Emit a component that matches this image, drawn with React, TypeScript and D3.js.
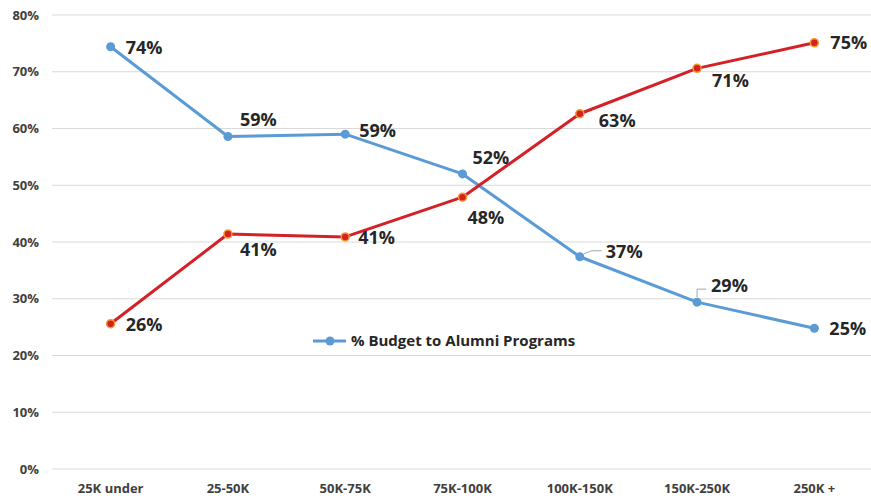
import React from "react";
import * as d3 from "d3";

const categories = ["25K under", "25-50K", "50K-75K", "75K-100K", "100K-150K", "150K-250K", "250K +"];
const alumniBudget = [74.4, 58.6, 59.0, 52.0, 37.4, 29.4, 24.8];
const otherBudget = [25.6, 41.4, 40.9, 47.9, 62.6, 70.6, 75.1];
const yTicks = [0, 10, 20, 30, 40, 50, 60, 70, 80];
const legendLabel = "% Budget to Alumni Programs";

// label offsets (dx, dy) relative to each point
const blueLabelOffsets: [number, number][] = [[15, 1], [12, -17], [14, -4], [10, -16], [26, -5], [14, -17], [15, 0]];
const redLabelOffsets: [number, number][] = [[15, 1], [12, 15], [13, 1], [5, 20], [19, 7], [15, 12], [16, 0]];

const W = 871, H = 496;
const FONT = "'Open Sans', 'Noto Sans', sans-serif";
const BLUE = "#5b9bd5";
const RED = "#d42027";
const RED_STROKE = "#f59a2a";

export default function App() {
  const x = d3.scaleBand<string>().domain(categories).range([52, 873]);
  const y = d3.scaleLinear().domain([0, 80]).range([469, 15]);
  const cx = (c: string) => (x(c) as number) + x.bandwidth() / 2;
  const line = d3.line<number>().x((_, i) => cx(categories[i])).y((d) => y(d));

  const labels = (vals: number[], offs: [number, number][], key: string) =>
    vals.map((v, i) => (
      <text key={key + i} x={cx(categories[i]) + offs[i][0]} y={y(v) + offs[i][1]} dy="0.36em"
        fontSize={18} fontWeight={700} fill="#262626" fontFamily={FONT}>
        {Math.round(v)}%
      </text>
    ));

  const p37 = { x: cx(categories[4]), y: y(alumniBudget[4]) };
  const p29 = { x: cx(categories[5]), y: y(alumniBudget[5]) };

  return (
    <svg width={W} height={H} style={{ position: "absolute", left: 0, top: 0, background: "#fff" }}>
      {yTicks.map((t) => (
        <g key={t}>
          <line x1={52} x2={W} y1={y(t)} y2={y(t)} stroke="#d9d9d9" strokeWidth={1} />
          <text x={39} y={y(t)} dy="0.36em" textAnchor="end" fontSize={13} fontWeight={700} fill="#404040" fontFamily={FONT}>
            {t}%
          </text>
        </g>
      ))}
      {categories.map((c) => (
        <text key={c} x={cx(c)} y={493} textAnchor="middle" fontSize={13} fontWeight={700} fill="#404040" fontFamily={FONT}>
          {c}
        </text>
      ))}
      {/* leader lines */}
      <polyline points={`${p37.x + 4},${p37.y - 3} ${p37.x + 12},${p37.y - 6} ${p37.x + 22},${p37.y - 6}`} fill="none" stroke="#a6a6a6" strokeWidth={1} />
      <polyline points={`${p29.x},${p29.y - 5} ${p29.x},${p29.y - 13} ${p29.x + 9},${p29.y - 13}`} fill="none" stroke="#a6a6a6" strokeWidth={1} />

      <path d={line(alumniBudget) || ""} fill="none" stroke={BLUE} strokeWidth={3} strokeLinejoin="round" />
      <path d={line(otherBudget) || ""} fill="none" stroke={RED} strokeWidth={3} strokeLinejoin="round" />
      {alumniBudget.map((v, i) => (
        <circle key={"b" + i} cx={cx(categories[i])} cy={y(v)} r={4.5} fill={BLUE} />
      ))}
      {otherBudget.map((v, i) => (
        <circle key={"r" + i} cx={cx(categories[i])} cy={y(v)} r={4} fill={RED} stroke={RED_STROKE} strokeWidth={1.5} />
      ))}
      {labels(alumniBudget, blueLabelOffsets, "bl")}
      {labels(otherBudget, redLabelOffsets, "rl")}

      {/* legend */}
      <g>
        <line x1={313} x2={346} y1={341} y2={341} stroke={BLUE} strokeWidth={3} />
        <circle cx={330} cy={341} r={4.5} fill={BLUE} />
        <text x={351} y={341} dy="0.36em" fontSize={15} fontWeight={700} fill="#262626" fontFamily={FONT}>
          {legendLabel}
        </text>
      </g>
    </svg>
  );
}
